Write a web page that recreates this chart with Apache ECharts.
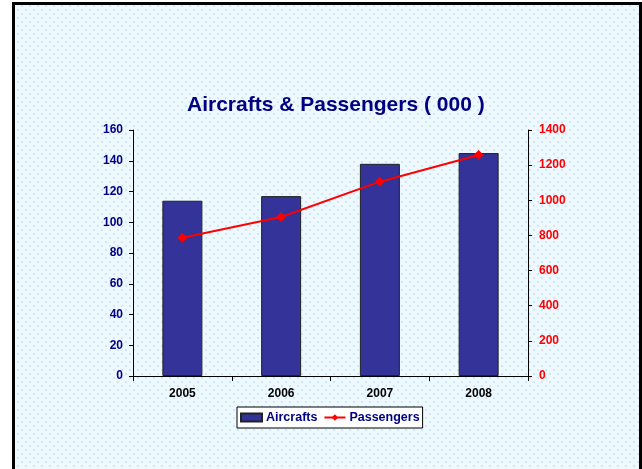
<!DOCTYPE html>
<html>
<head>
<meta charset="utf-8">
<script src="https://cdn.jsdelivr.net/npm/echarts@6/dist/echarts.min.js"></script>
<style>
  html, body { margin: 0; padding: 0; background: #fff; }
  #main { width: 642px; height: 469px; }
</style>
</head>
<body>
<div id="main"></div>
<script>
// data
const years = ['2005', '2006', '2007', '2008'];
const aircrafts = [114, 117, 138, 145];
const passengers = [787, 905, 1106, 1258];

// dotted background tile
function dotTile() {
  const c = document.createElement('canvas');
  c.width = 8; c.height = 8;
  const ctx = c.getContext('2d');
  ctx.fillStyle = '#eef8ff';
  ctx.fillRect(0, 0, 8, 8);
  ctx.fillStyle = '#cde6f8';
  ctx.fillRect(1, 1, 2, 2);
  ctx.fillRect(5, 5, 2, 2);
  return c;
}

const chart = echarts.init(document.getElementById('main'));
const font = 'Liberation Sans, Arial, sans-serif';

let option = {
  backgroundColor: { image: dotTile(), repeat: 'repeat' },
  animation: false,
  title: {
    text: 'Aircrafts & Passengers ( 000 )',
    left: 182,
    top: 90,
    textStyle: { color: '#000080', fontSize: 21, fontWeight: 'bold', fontFamily: font, letterSpacing: -0.4 }
  },
  graphic: [
    { type: 'rect', left: 0, top: 0, shape: { width: 12, height: 469 }, style: { fill: '#fff' }, z: 100 },
    { type: 'rect', left: 0, top: 0, shape: { width: 642, height: 2 }, style: { fill: '#fff' }, z: 100 },
    { type: 'rect', shape: { x: 13.5, y: 3.5, width: 627, height: 470 },
      style: { fill: 'none', stroke: '#000', lineWidth: 3 }, z: 101 }
  ],
  legend: {
    data: [{ name: 'Aircrafts', icon: 'rect' }, { name: 'Passengers' }],
    left: 237,
    top: 407,
    backgroundColor: '#fff',
    borderColor: '#000',
    borderWidth: 1,
    padding: [4, 3, 4, 3],
    itemGap: 6,
    itemWidth: 21,
    itemHeight: 8,
    textStyle: { color: '#000080', fontSize: 12.5, fontWeight: 'bold', fontFamily: font, padding: [0, 0, 0, -1] }
  },
  grid: { left: 133, right: 114, top: 130, bottom: 93 },
  xAxis: {
    type: 'category',
    data: years,
    axisLine: { lineStyle: { color: '#000', width: 1 } },
    axisTick: { show: true, length: 5, lineStyle: { color: '#000' } },
    axisLabel: { color: '#000', fontSize: 12, fontWeight: 'bold', fontFamily: font, margin: 12 }
  },
  yAxis: [
    {
      type: 'value', min: 0, max: 160, interval: 20,
      splitLine: { show: false },
      axisLine: { show: true, lineStyle: { color: '#000' } },
      axisTick: { show: true, length: 4, lineStyle: { color: '#000' } },
      axisLabel: { color: '#000080', fontSize: 12, fontWeight: 'bold', fontFamily: font, margin: 10 }
    },
    {
      type: 'value', min: 0, max: 1400, interval: 200,
      splitLine: { show: false },
      axisLine: { show: true, lineStyle: { color: '#000' } },
      axisTick: { show: true, length: 4, lineStyle: { color: '#000' } },
      axisLabel: {
        color: '#ff0000', fontSize: 12, fontWeight: 'bold', fontFamily: font, margin: 11,
        formatter: function (v) { return String(v); }
      }
    }
  ],
  series: [
    {
      name: 'Aircrafts',
      type: 'bar',
      data: aircrafts,
      barWidth: 40,
      itemStyle: { color: '#333399', borderColor: '#222', borderWidth: 1 }
    },
    {
      name: 'Passengers',
      type: 'line',
      yAxisIndex: 1,
      data: passengers,
      symbol: 'diamond',
      symbolSize: 10,
      lineStyle: { color: '#ff0000', width: 2 },
      itemStyle: { color: '#ff0000' }
    }
  ]
};
chart.setOption(option);
</script>
</body>
</html>
